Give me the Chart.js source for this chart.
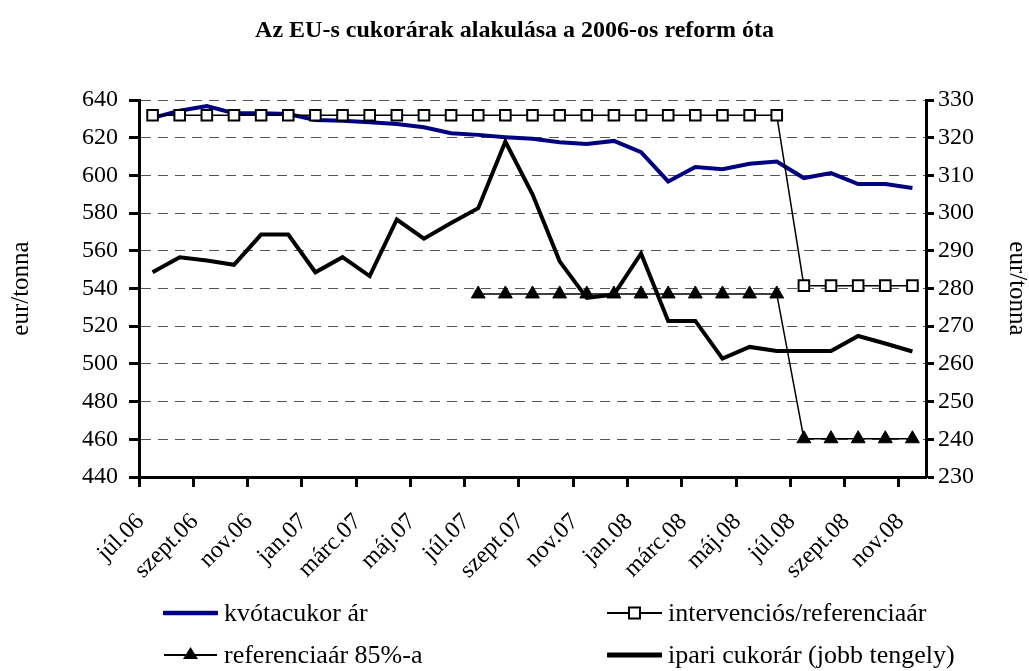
<!DOCTYPE html>
<html><head><meta charset="utf-8">
<script src="https://cdn.jsdelivr.net/npm/chart.js@4/dist/chart.umd.min.js"></script>
<style>
html,body{margin:0;padding:0;background:#fff;}
#wrap{position:relative;width:1029px;height:671px;overflow:hidden;background:#fff;}
#c{position:absolute;left:0;top:0;}
.leg{position:absolute;height:40px;display:flex;align-items:center;font-family:'Liberation Serif','Times New Roman',serif;font-size:26px;color:#000;white-space:nowrap;transform:translateY(-50%);}
.leg svg{margin-right:6px;}
</style></head><body>
<div id="wrap"><canvas id="c" width="1029" height="671"></canvas><div id="legend"></div></div>
<script>
const months = ['júl.06','aug.06','szept.06','okt.06','nov.06','dec.06','jan.07','febr.07','márc.07','ápr.07','máj.07','jún.07','júl.07','aug.07','szept.07','okt.07','nov.07','dec.07','jan.08','febr.08','márc.08','ápr.08','máj.08','jún.08','júl.08','aug.08','szept.08','okt.08','nov.08'];
const kvotacukor = [630.5,634.3,636.8,633.0,633.0,632.6,629.4,629.0,628.2,627.3,625.5,622.4,621.5,620.3,619.4,617.6,616.6,618.3,612.3,596.8,604.4,603.3,606.2,607.4,598.6,601.2,595.4,595.4,593.3];
const intervencios = [631.9,631.9,631.9,631.9,631.9,631.9,631.9,631.9,631.9,631.9,631.9,631.9,631.9,631.9,631.9,631.9,631.9,631.9,631.9,631.9,631.9,631.9,631.9,631.9,541.5,541.5,541.5,541.5,541.5];
const referencia85 = [null,null,null,null,null,null,null,null,null,null,null,null,537.1,537.1,537.1,537.1,537.1,537.1,537.1,537.1,537.1,537.1,537.1,537.1,460.3,460.3,460.3,460.3,460.3];
const ipari = [284.3,288.3,287.4,286.3,294.3,294.3,284.3,288.3,283.3,298.3,293.2,297.4,301.3,319.0,305.0,287.2,277.5,278.4,289.3,271.4,271.4,261.4,264.5,263.4,263.4,263.4,267.4,265.4,263.3];
const leftTickRange = [440, 640, 20];
const rightTickRange = [230, 330, 10];
const seriesNames = ['kvótacukor ár','intervenciós/referenciaár','referenciaár 85%-a','ipari cukorár (jobb tengely)'];
const titleText = 'Az EU-s cukorárak alakulása a 2006-os reform óta';
const axisTitle = 'eur/tonna';

const SERIF = "'Liberation Serif','Times New Roman',serif";
const NAVY = '#000080';

new Chart(document.getElementById('c'), {
  type: 'line',
  data: {
    labels: months,
    datasets: [
      {label: seriesNames[0], data: kvotacukor, yAxisID: 'y', borderColor: NAVY, backgroundColor: NAVY, borderWidth: 4, pointRadius: 0, tension: 0, order: 4},
      {label: seriesNames[1], data: intervencios, yAxisID: 'y', borderColor: '#000', borderWidth: 1.5, pointStyle: 'rect', pointRadius: 7.5, pointBackgroundColor: '#fff', pointBorderColor: '#000', pointBorderWidth: 2, tension: 0, order: 1},
      {label: seriesNames[2], data: referencia85, yAxisID: 'y', borderColor: '#000', borderWidth: 1.5, pointStyle: 'triangle', pointRadius: 8, pointBackgroundColor: '#000', pointBorderColor: '#000', pointBorderWidth: 1, tension: 0, spanGaps: false, order: 2},
      {label: seriesNames[3], data: ipari, yAxisID: 'y1', borderColor: '#000', backgroundColor: '#000', borderWidth: 4, pointRadius: 0, tension: 0, order: 3}
    ]
  },
  options: {
    responsive: false,
    devicePixelRatio: 1,
    animation: false,
    events: [],
    layout: {padding: 0},
    plugins: {
      legend: {display: false},
      tooltip: {enabled: false},
      title: {display: true, text: titleText, color: '#000', font: {family: SERIF, size: 24, weight: 'bold', lineHeight: 1.2}, padding: {top: 16.6, bottom: 54.6}}
    },
    scales: {
      x: {
        type: 'category',
        offset: true,
        grid: {offset: true, drawOnChartArea: false, drawTicks: true, tickLength: 10, tickWidth: 3,
          color: (ctx) => (ctx.index !== undefined && ctx.index % 2 === 0) ? '#000' : 'rgba(0,0,0,0)',
          tickColor: (ctx) => (ctx.index !== undefined && ctx.index % 2 === 0) ? '#000' : 'rgba(0,0,0,0)'},
        border: {display: true, color: '#000', width: 3},
        ticks: {autoSkip: false, minRotation: 45, maxRotation: 45, padding: 21, labelOffset: -12, color: '#000',
          font: {family: SERIF, size: 24},
          callback: function(v, i) { return i % 2 === 0 ? this.getLabelForValue(v) : ''; }},
        afterFit: (s) => { s.height = 671 - 477; }
      },
      y: {
        position: 'left',
        min: leftTickRange[0], max: leftTickRange[1],
        ticks: {stepSize: leftTickRange[2], padding: 11, color: '#000', font: {family: SERIF, size: 24}},
        grid: {drawOnChartArea: true, drawTicks: true, tickLength: 10, tickWidth: 3, lineWidth: 1,
          color: (ctx) => ctx.index === 0 ? 'rgba(0,0,0,0)' : '#555', tickColor: '#000', tickBorderDash: []},
        border: {display: true, color: '#000', width: 3, dash: [10, 7]},
        title: {display: true, text: axisTitle, color: '#000', font: {family: SERIF, size: 25, lineHeight: 1}, padding: {top: 9, bottom: 0}},
        afterFit: (s) => { s.width = 139; }
      },
      y1: {
        position: 'right',
        min: rightTickRange[0], max: rightTickRange[1],
        ticks: {stepSize: rightTickRange[2], padding: 4, color: '#000', font: {family: SERIF, size: 24}},
        grid: {drawOnChartArea: false, drawTicks: true, tickLength: 8, tickWidth: 3, tickColor: '#000'},
        border: {display: true, color: '#000', width: 3},
        title: {display: true, text: axisTitle, color: '#000', font: {family: SERIF, size: 25, lineHeight: 1}, padding: {top: 0, bottom: 0}},
        afterFit: (s) => { s.width = 1029 - 926; }
      }
    }
  }
});

// legend (HTML text, SVG samples)
const legendItems = [
  {name: seriesNames[0], x: 163, y: 613, svg: '<line x1="1" y1="10" x2="54" y2="10" stroke="'+NAVY+'" stroke-width="4.5" stroke-linecap="round"/>'},
  {name: seriesNames[2], x: 163, y: 655, svg: '<line x1="1" y1="10" x2="54" y2="10" stroke="#000" stroke-width="2"/><polygon points="27.5,2 35,14 20,14" fill="#000"/>'},
  {name: seriesNames[1], x: 607, y: 613, svg: '<line x1="0" y1="10" x2="55" y2="10" stroke="#000" stroke-width="2"/><rect x="22" y="4.5" width="11" height="11" fill="#fff" stroke="#000" stroke-width="2"/>'},
  {name: seriesNames[3], x: 607, y: 655, svg: '<line x1="1" y1="10" x2="54" y2="10" stroke="#000" stroke-width="5" stroke-linecap="round"/>'}
];
const lg = document.getElementById('legend');
legendItems.forEach(it => {
  const d = document.createElement('div');
  d.className = 'leg';
  d.style.left = it.x + 'px';
  d.style.top = it.y + 'px';
  d.innerHTML = '<svg width="55" height="20" viewBox="0 0 55 20">' + it.svg + '</svg><span>' + it.name + '</span>';
  lg.appendChild(d);
});
</script>
</body></html>
